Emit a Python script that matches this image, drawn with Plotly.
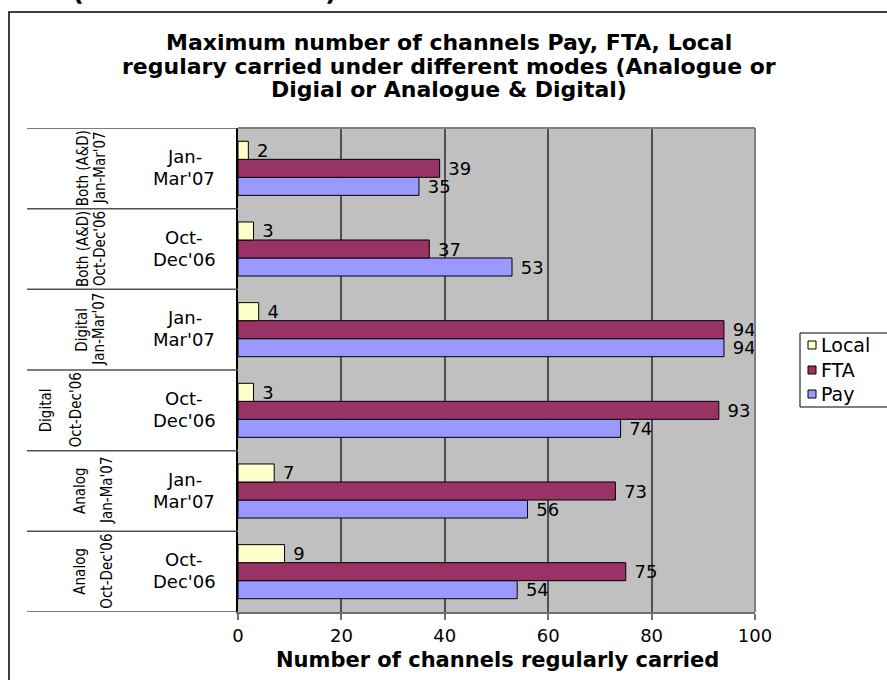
import plotly.graph_objects as go

# ---------------- data (bottom category first) ----------------
cat_keys = ["A-OD06", "A-JM07", "D-OD06", "D-JM07", "B-OD06", "B-JM07"]
mode_labels = ["Analog", "Analog", "Digital", "Digital", "Both (A&D)", "Both (A&D)"]
period_labels = ["Oct-Dec'06", "Jan-Ma'07", "Oct-Dec'06", "Jan-Mar'07", "Oct-Dec'06", "Jan-Mar'07"]
inner_top = ["Oct-", "Jan-", "Oct-", "Jan-", "Oct-", "Jan-"]
inner_bottom = ["Dec'06", "Mar'07", "Dec'06", "Mar'07", "Dec'06", "Mar'07"]

local_vals = [9, 7, 3, 4, 3, 2]
fta_vals = [75, 73, 93, 94, 37, 39]
pay_vals = [54, 56, 74, 94, 53, 35]

series_names = ["Local", "FTA", "Pay"]
x_ticks = [0, 20, 40, 60, 80, 100]

title_lines = ["Maximum number of channels Pay, FTA, Local",
               "regulary carried under different modes (Analogue or",
               "Digial or Analogue & Digital)"]
x_title = "Number of channels regularly carried"

# ---------------- styling / layout constants ----------------
W, H = 887, 680
PL, PR, PT, PB = 238, 755, 128, 612
colors = {"Local": "#FFFFCC", "FTA": "#993366", "Pay": "#9999FF"}
FONT = "DejaVu Sans, Verdana, Arial, sans-serif"
NARROW = "DejaVu Sans Condensed, Liberation Sans Narrow, Arial Narrow, sans-serif"

def px(xp):
    return (xp - PL) / (PR - PL)

def py(yp):
    return (PB - yp) / (PB - PT)

# x pixel centres of the two rotated label lines for each category
rot_x = [(80, 107), (80, 107), (46, 76), (82, 99), (83, 100), (83, 100)]
title_y = [42, 66, 90]

fig = go.Figure()
series_vals = {"Local": local_vals, "FTA": fta_vals, "Pay": pay_vals}
# Pay first so it sits at the bottom of each group
for name in ["Pay", "FTA", "Local"]:
    vals = series_vals[name]
    fig.add_trace(go.Bar(
        y=cat_keys, x=vals, orientation="h", name=name,
        marker=dict(color=colors[name], line=dict(color="black", width=1)),
        text=["\u00a0" + str(v) for v in vals],
        textposition="outside", constraintext="none", cliponaxis=False,
        textfont=dict(family=FONT, size=18, color="black"),
        showlegend=False,
    ))

shapes = []
# outer chart border
shapes.append(dict(type="rect", xref="paper", yref="paper",
                   x0=px(9), x1=px(940), y0=py(12), y1=py(720),
                   line=dict(color="black", width=1.5), fillcolor="rgba(0,0,0,0)", layer="above"))
# category separators in label area
for k in range(len(cat_keys) + 1):
    shapes.append(dict(type="line", xref="paper", yref="y",
                       x0=px(27), x1=0, y0=k - 0.5, y1=k - 0.5,
                       line=dict(color="#505050", width=1.5)))
# plot area top & right border
shapes.append(dict(type="line", xref="paper", yref="paper", x0=0, x1=1, y0=1, y1=1,
                   line=dict(color="#808080", width=2)))
shapes.append(dict(type="line", xref="paper", yref="paper", x0=1, x1=1, y0=0, y1=1,
                   line=dict(color="#808080", width=2)))
# legend box
shapes.append(dict(type="rect", xref="paper", yref="paper",
                   x0=px(800), x1=px(900), y0=py(333), y1=py(407),
                   line=dict(color="black", width=1), fillcolor="white"))
leg_y = [345, 370, 394]
for name, yy in zip(series_names, leg_y):
    shapes.append(dict(type="rect", xref="paper", yref="paper",
                       x0=px(808), x1=px(816), y0=py(yy - 4), y1=py(yy + 4),
                       line=dict(color="black", width=1), fillcolor=colors[name]))

annotations = []

def ann(**kw):
    base = dict(showarrow=False, xanchor="center", yanchor="middle")
    base.update(kw)
    annotations.append(base)

for line, yy in zip(title_lines, title_y):
    ann(text="<b>" + line + "</b>", xref="paper", yref="paper", x=px(449), y=py(yy),
        font=dict(family=FONT, size=22, color="black"))
ann(text="<b>" + x_title + "</b>", xref="paper", yref="paper", x=px(497), y=py(660),
    font=dict(family=FONT, size=21, color="black"))
# partially cropped text at the very top of the image
ann(text="<b>(</b>", xref="paper", yref="paper", x=px(78), y=py(-9),
    font=dict(family=FONT, size=26, color="black"))
ann(text="<b>)</b>", xref="paper", yref="paper", x=px(331), y=py(-9),
    font=dict(family=FONT, size=26, color="black"))
for i, key in enumerate(cat_keys):
    ann(text=inner_top[i], xref="paper", yref="y", x=px(184), y=key, yshift=12,
        font=dict(family=FONT, size=18, color="black"))
    ann(text=inner_bottom[i], xref="paper", yref="y", x=px(184), y=key, yshift=-10,
        font=dict(family=FONT, size=18, color="black"))
    ann(text=mode_labels[i], xref="paper", yref="y", x=px(rot_x[i][0]), y=key, textangle=-90,
        font=dict(family=NARROW, size=15, color="black"))
    ann(text=period_labels[i], xref="paper", yref="y", x=px(rot_x[i][1]), y=key, textangle=-90,
        font=dict(family=NARROW, size=15, color="black"))
for name, yy in zip(series_names, leg_y):
    ann(text=name, xref="paper", yref="paper", x=px(819), y=py(yy), xanchor="left",
        font=dict(family=FONT, size=19, color="black"))

fig.update_layout(
    width=W, height=H, autosize=False,
    margin=dict(l=PL, r=W - PR, t=PT, b=H - PB, pad=0),
    paper_bgcolor="white", plot_bgcolor="#C0C0C0",
    barmode="group", bargap=0.33, bargroupgap=0,
    font=dict(family=FONT, color="black"),
    shapes=shapes, annotations=annotations,
    showlegend=False,
    xaxis=dict(range=[0, 100], tickvals=x_ticks, showgrid=True, gridcolor="#505050",
               gridwidth=1.5, zeroline=False, showline=True, linecolor="#707070",
               linewidth=2, ticks="outside", ticklen=6, tickcolor="#707070", tickwidth=1.5,
               tickfont=dict(family=FONT, size=18, color="black")),
    yaxis=dict(type="category", categoryorder="array", categoryarray=cat_keys,
               range=[-0.5, len(cat_keys) - 0.5], showticklabels=False, showgrid=False,
               zeroline=False, showline=True, linecolor="black", linewidth=1.5, ticks=""),
)

fig.write_html("out.html")
